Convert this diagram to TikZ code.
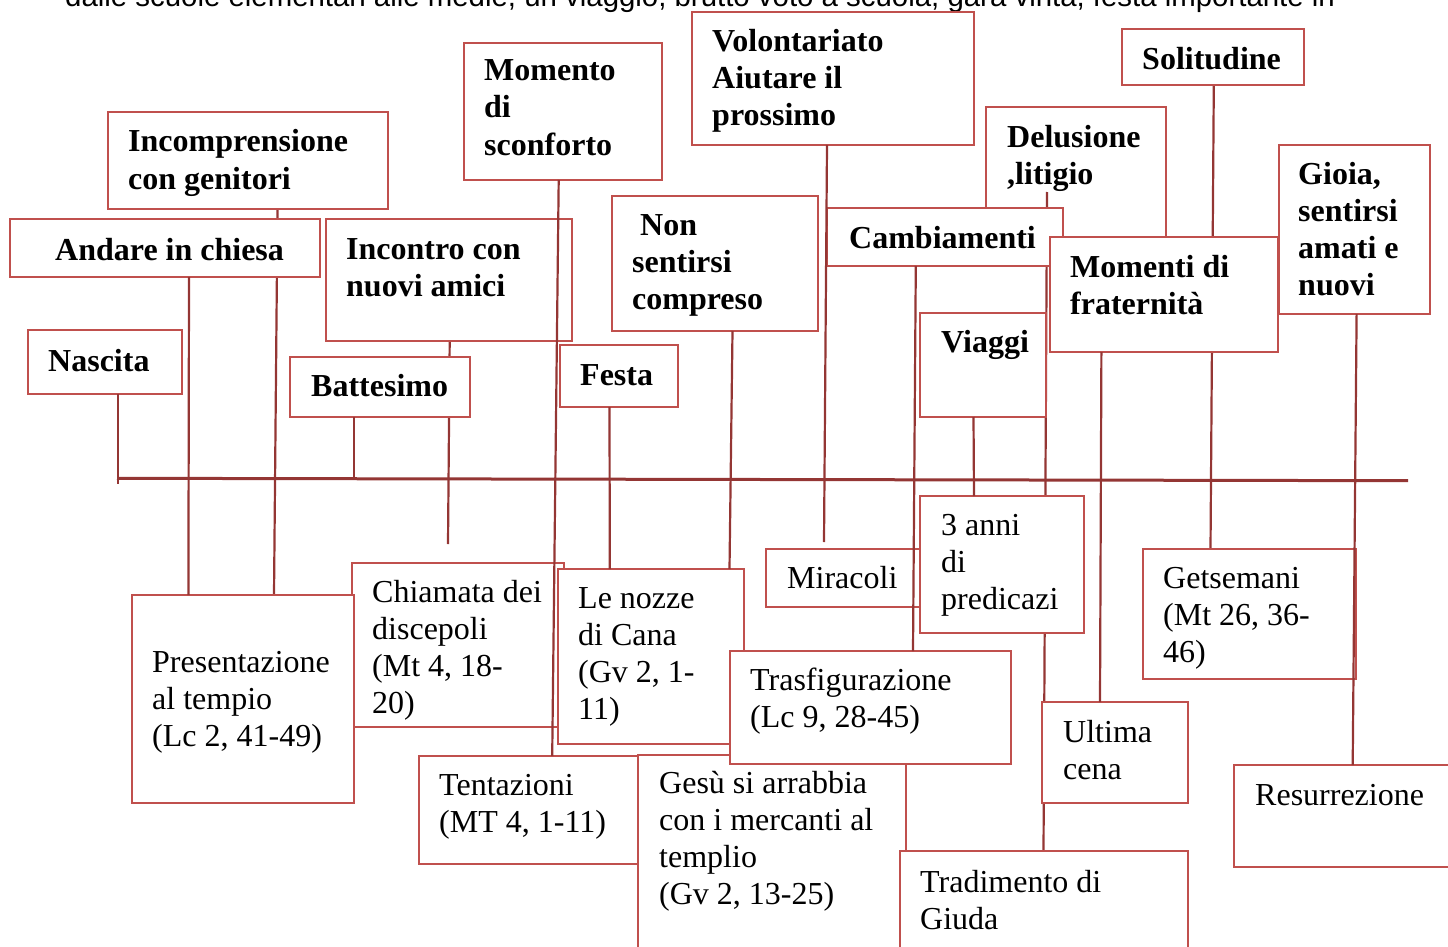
\documentclass[tikz,border=0pt]{standalone}
\usepackage{fontspec}
\setmainfont{Liberation Serif}
\newfontfamily\introfont{Liberation Sans}
\usetikzlibrary{calc, backgrounds}
\definecolor{boxred}{HTML}{C0504D}
\definecolor{linered}{HTML}{943634}
\newcommand{\boxfont}{\fontsize{32}{37}\selectfont}

\begin{document}
\begin{tikzpicture}[
  x=1pt, y=-1pt,
  box/.style   = {draw=boxred, line width=1.4pt, fill=white, anchor=north west,
                  inner sep=0pt, outer sep=0pt},
  evt/.style   = {anchor=base west, inner sep=0pt, align=left,
                  font=\boxfont\bfseries},
  gsp/.style   = {anchor=base west, inner sep=0pt, align=left, font=\boxfont},
  intro/.style = {anchor=base west, inner sep=0pt,
                  font=\introfont\fontsize{29.4}{34}\selectfont},
  link/.style  = {draw=linered, line width=2.2pt},
  axis/.style  = {draw=linered, line width=3pt},
]
\useasboundingbox (0,0) rectangle (1448,947);
\clip (0,0) rectangle (1448,947);

% ---------- text line cut at the top ----------
\node[intro] (intro) at (65,6.5)
  {dalle scuole elementari alle medie, un viaggio, brutto voto a scuola, gara vinta, festa importante in};

% ---------- time line ----------
\coordinate (t-start) at (117,478.3);
\coordinate (t-end)   at (1408,480.7);
\coordinate (t-tick)  at (118,484);
\draw[axis] (t-start) -- (t-end);

% ---------- gospel events (below the line) ----------
% (text nodes sit on the baseline of their last line)
\node[box, minimum width=212, minimum height=164] (chiamata) at (352,563) {};
\node[gsp] (chiamata-txt) at ($(chiamata.north west)+(20,150)$) {Chiamata dei\\discepoli\\(Mt 4, 18-\\20)};
\node[box, minimum width=222, minimum height=208] (presentazione) at (132,595) {};
\node[gsp] (presentazione-txt) at ($(presentazione.north west)+(20,151)$) {Presentazione\\al tempio\\(Lc 2, 41-49)};
\node[box, minimum width=219, minimum height=108] (tentazioni) at (419,756) {};
\node[gsp] (tentazioni-txt) at ($(tentazioni.north west)+(20,76)$) {Tentazioni\\(MT 4, 1-11)};
\node[box, minimum width=268, minimum height=240] (gesu) at (638,755) {};
\node[gsp] (gesu-txt) at ($(gesu.north west)+(21,149)$) {Gesù si arrabbia\\con i mercanti al\\templio\\(Gv 2, 13-25)};
\node[box, minimum width=186, minimum height=175] (nozze) at (558,569) {};
\node[gsp] (nozze-txt) at ($(nozze.north west)+(20,150)$) {Le nozze\\di Cana\\(Gv 2, 1-\\11)};
\node[box, minimum width=281, minimum height=113] (trasfig) at (730,651) {};
\node[gsp] (trasfig-txt) at ($(trasfig.north west)+(20,76)$) {Trasfigurazione\\(Lc 9, 28-45)};
\node[box, minimum width=288, minimum height=140] (tradimento) at (900,851) {};
\node[gsp] (tradimento-txt) at ($(tradimento.north west)+(20,78)$) {Tradimento di\\Giuda};
\node[box, minimum width=154, minimum height=58] (miracoli) at (766,549) {};
\node[gsp] (miracoli-txt) at ($(miracoli.north west)+(21,39)$) {Miracoli};
\node[box, minimum width=164, minimum height=137] (predica) at (920,496) {};
\node[gsp] (predica-txt) at ($(predica.north west)+(21,113)$) {3 anni\\di\\predicazi};
\node[box, minimum width=146, minimum height=101] (cena) at (1042,702) {};
\node[gsp] (cena-txt) at ($(cena.north west)+(21,77)$) {Ultima\\cena};
\node[box, minimum width=213, minimum height=130] (getsemani) at (1143,549) {};
\node[gsp] (getsemani-txt) at ($(getsemani.north west)+(20,113)$) {Getsemani\\(Mt 26, 36-\\46)};
\node[box, minimum width=240, minimum height=102] (resurrezione) at (1234,765) {};
\node[gsp] (resurrezione-txt) at ($(resurrezione.north west)+(21,40)$) {Resurrezione};

% ---------- life events (above the line) ----------
\node[box, minimum width=280, minimum height=97] (incompr) at (108,112) {};
\node[evt] (incompr-txt) at ($(incompr.north west)+(20,77)$) {Incomprensione\\con genitori};
\node[box, minimum width=310, minimum height=58] (chiesa) at (10,219) {};
\node[evt] (chiesa-txt) at ($(chiesa.north west)+(45,41)$) {Andare in chiesa};
\node[box, minimum width=154, minimum height=64] (nascita) at (28,330) {};
\node[evt] (nascita-txt) at ($(nascita.north west)+(20,41)$) {Nascita};
\node[box, minimum width=246, minimum height=122] (amici) at (326,219) {};
\node[evt] (amici-txt) at ($(amici.north west)+(20,77)$) {Incontro con\\nuovi amici};
\node[box, minimum width=180, minimum height=60] (battesimo) at (290,357) {};
\node[evt] (battesimo-txt) at ($(battesimo.north west)+(21,39)$) {Battesimo};
\node[box, minimum width=198, minimum height=137] (sconforto) at (464,43) {};
\node[evt] (sconforto-txt) at ($(sconforto.north west)+(20,112)$) {Momento\\di\\sconforto};
\node[box, minimum width=282, minimum height=133] (volont) at (692,12) {};
\node[evt] (volont-txt) at ($(volont.north west)+(20,114)$) {Volontariato\\Aiutare il\\prossimo};
\node[box, minimum width=182, minimum height=56] (solitudine) at (1122,29) {};
\node[evt] (solitudine-txt) at ($(solitudine.north west)+(20,41)$) {Solitudine};
\node[box, minimum width=236, minimum height=58] (cambiamenti) at (827,208) {};
\node[evt] (cambiamenti-txt) at ($(cambiamenti.north west)+(22,40)$) {Cambiamenti};
\node[box, minimum width=228, minimum height=115] (fraternita) at (1050,237) {};
\node[evt] (fraternita-txt) at ($(fraternita.north west)+(20,77)$) {Momenti di\\fraternità};
\node[box, minimum width=151, minimum height=169] (gioia) at (1279,145) {};
\node[evt] (gioia-txt) at ($(gioia.north west)+(19,150)$) {Gioia,\\sentirsi\\amati e\\nuovi};
\node[box, minimum width=206, minimum height=135] (compreso) at (612,196) {};
\node[evt] (compreso-txt) at ($(compreso.north west)+(20,113)$) {\hspace*{8pt}Non\\sentirsi\\compreso};
\node[box, minimum width=126, minimum height=104] (viaggi) at (920,313) {};
\node[evt] (viaggi-txt) at ($(viaggi.north west)+(21,39)$) {Viaggi};
\node[box, minimum width=118, minimum height=62] (festa) at (560,345) {};
\node[evt] (festa-txt) at ($(festa.north west)+(20,40)$) {Festa};

% ---------- connectors ----------
\coordinate (battesimo-end) at (354,480);
\coordinate (volont-end)    at (824,542);
\coordinate (amici-end)     at (448,544);
\coordinate (delusione-top) at (1047,192);

\draw[link] (nascita.south -| t-tick) -- (t-tick);
\draw[link] (battesimo.south -| battesimo-end) -- (battesimo-end);
\draw[link] (volont.south -| {(827,0)}) -- (volont-end);
\foreach \a/\xa/\b/\xb in {chiesa/189/presentazione/188.4,
                           sconforto/558.7/tentazioni/552.2,
                           festa/609.5/nozze/609.8,
                           compreso/732.5/nozze/729.5,
                           cambiamenti/915.8/trasfig/913,
                           viaggi/973.5/predica/974,
                           fraternita/1101.4/cena/1100,
                           gioia/1356.6/resurrezione/1352.7}{
  \draw[link] (\a.south -| {(\xa,0)}) -- (\b.north -| {(\xb,0)});
}

% ---------- connectors hidden behind boxes ----------
\begin{scope}[on background layer]
  \node[box, minimum width=180, minimum height=133] (delusione) at (986,107) {};
  \node[evt] (delusione-txt) at ($(delusione.north west)+(21,77)$) {Delusione\\,litigio};
  \draw[link] (delusione-top) -- (tradimento.north -| {(1043.5,0)});
  \draw[link] (incompr.south -| {(277.5,0)}) -- (presentazione.north -| {(274,0)});
  \draw[link] (amici.south -| {(449.7,0)}) -- (amici-end);
  \draw[link] (solitudine.south -| {(1213.8,0)}) -- (getsemani.north -| {(1210.5,0)});
\end{scope}

\end{tikzpicture}
\end{document}
